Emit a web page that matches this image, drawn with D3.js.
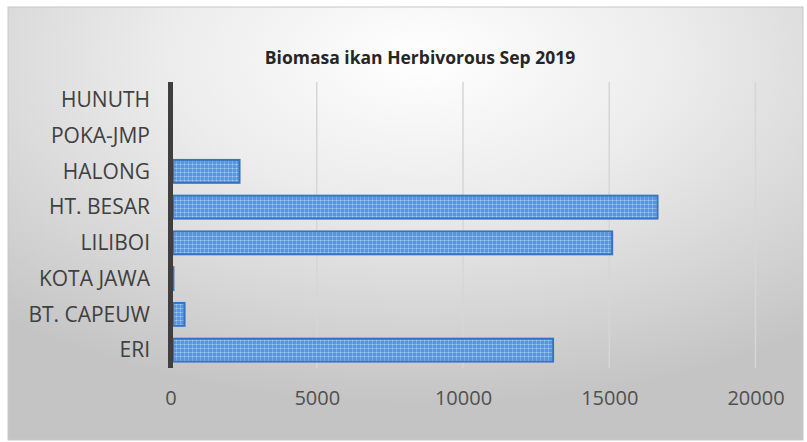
<!DOCTYPE html>
<html><head><meta charset="utf-8">
<script src="https://cdn.jsdelivr.net/npm/d3@7"></script>
<style>html,body{margin:0;padding:0;background:#fff;}svg{display:block;}</style>
</head><body>
<svg id="chart" width="807" height="442"></svg>
<script>
const title = "Biomasa ikan Herbivorous Sep 2019";
const categories = ["HUNUTH","POKA-JMP","HALONG","HT. BESAR","LILIBOI","KOTA JAWA","BT. CAPEUW","ERI"];
const values = [0, 0, 2360, 16650, 15100, 100, 480, 13080];
const tickValues = [0, 5000, 10000, 15000, 20000];

const svg = d3.select("#chart");
const defs = svg.append("defs");
const rg = defs.append("radialGradient").attr("id","bg")
  .attr("cx","52%").attr("cy","12%").attr("r","80%")
  .attr("fx","52%").attr("fy","12%");
rg.append("stop").attr("offset","0%").attr("stop-color","#ffffff");
rg.append("stop").attr("offset","40%").attr("stop-color","#ececec");
rg.append("stop").attr("offset","100%").attr("stop-color","#c4c4c4");

const pat = defs.append("pattern").attr("id","dots").attr("patternUnits","userSpaceOnUse")
  .attr("width",4).attr("height",4);
pat.append("rect").attr("width",4).attr("height",4).attr("fill","#5796dc");
pat.append("rect").attr("x",0).attr("y",0).attr("width",4).attr("height",1).attr("fill","#7fb0e8");
pat.append("rect").attr("x",0).attr("y",0).attr("width",1).attr("height",4).attr("fill","#78abe6");
pat.append("rect").attr("x",0).attr("y",0).attr("width",1).attr("height",1).attr("fill","#a9cdf2");

svg.append("rect").attr("x",8).attr("y",7).attr("width",795).attr("height",433)
  .attr("fill","url(#bg)").attr("stroke","#c8c8c8").attr("stroke-width",1);

const x = d3.scaleLinear().domain([0,20000]).range([170.5, 755.5]);
const y = d3.scaleBand().domain(categories).range([82, 368]).paddingInner(0.36).paddingOuter(0.18);

// gridlines
svg.append("g").selectAll("line").data(tickValues.slice(1)).join("line")
  .attr("x1",d=>x(d)).attr("x2",d=>x(d)).attr("y1",82).attr("y2",368)
  .attr("stroke","#d6d6d6").attr("stroke-width",1.5);

// bars
svg.append("g").selectAll("rect").data(categories).join("rect")
  .attr("x", x(0)+2.5)
  .attr("y", d=>y(d))
  .attr("width", (d,i)=>Math.max(0, x(values[i]) - x(0) - 2.5))
  .attr("height", y.bandwidth())
  .attr("fill","url(#dots)")
  .attr("stroke","#3474c0").attr("stroke-width",2)
  .attr("display",(d,i)=>values[i]>0?null:"none");

// axis line
svg.append("line").attr("x1",x(0)).attr("x2",x(0)).attr("y1",82).attr("y2",368)
  .attr("stroke","#3f3f3f").attr("stroke-width",5);

// y axis labels
const yAxis = d3.axisLeft(y).tickSize(0).tickPadding(0);
const gy = svg.append("g").attr("transform","translate(150,0)").call(yAxis);
gy.select(".domain").remove();
gy.selectAll("text").attr("font-family","'Open Sans', sans-serif").attr("font-size",21)
  .attr("fill","#404040").attr("dy","0.35em");

// x axis labels
const xAxis = d3.axisBottom(x).tickValues(tickValues).tickSize(0).tickPadding(0).tickFormat(d3.format("d"));
const gx = svg.append("g").attr("transform","translate(0,398)").call(xAxis);
gx.select(".domain").remove();
gx.selectAll("text").attr("font-family","'Open Sans', sans-serif").attr("font-size",20)
  .attr("fill","#505050").attr("dy","0.35em");

svg.append("text").attr("x",420).attr("y",64).attr("text-anchor","middle")
  .attr("font-family","'Open Sans', sans-serif").attr("font-weight","bold").attr("font-size",17.5)
  .attr("fill","#262626").text(title);
</script>
</body></html>
